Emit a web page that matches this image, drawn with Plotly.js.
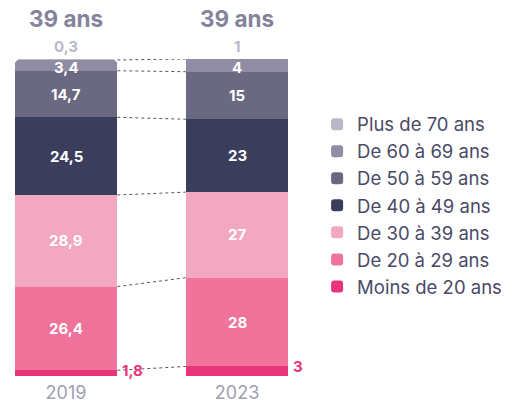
<!DOCTYPE html>
<html><head><meta charset="utf-8">
<script src="https://cdn.plot.ly/plotly-3.0.1.min.js"></script>
<style>html,body{margin:0;padding:0;background:#fff}#c{width:519px;height:404px}</style>
</head><body><div id="c"></div>
<script>
const years = ['2019', '2023'];
const headers = ['39 ans', '39 ans'];
const groups = ['Moins de 20 ans', 'De 20 à 29 ans', 'De 30 à 39 ans', 'De 40 à 49 ans', 'De 50 à 59 ans', 'De 60 à 69 ans', 'Plus de 70 ans'];
const v2019 = [1.8, 26.4, 28.9, 24.5, 14.7, 3.4, 0.3];
const v2023 = [3, 28, 27, 23, 15, 4, 1];
const colors = ['#e8357a', '#ef739b', '#f2a8c1', '#3b3d5c', '#6b6882', '#8f8ca3', '#b9b8c8'];

const fmt = v => String(v).replace('.', ',');
const xs = [0, 1];
const halfW = 0.3;
const traces = groups.map((g, i) => ({
  type: 'bar', name: g, x: xs, y: [v2019[i], v2023[i]],
  marker: {color: colors[i], line: {width: 0}},
  width: 2 * halfW, hoverinfo: 'skip', cliponaxis: false
}));

const cum = arr => { let s = 0; return arr.map(v => (s += v)); };
const c19 = cum(v2019), c23 = cum(v2023);
const shapes = [];
for (let i = 0; i < groups.length - 1; i++) {
  shapes.push({type: 'line', xref: 'x', yref: 'y', x0: 0 + halfW, x1: 1 - halfW, y0: c19[i], y1: c23[i],
    line: {color: '#555566', width: 1, dash: 'dot'}});
}
const topIdx = groups.length - 1;
const annotations = [];
xs.forEach((x, j) => {
  const vals = j === 0 ? v2019 : v2023;
  const c = j === 0 ? c19 : c23;
  annotations.push({x: x, xref: 'x', y: 1.129, yref: 'paper', yanchor: 'middle', showarrow: false,
    text: headers[j], font: {family: 'Inter', size: 22.5, color: '#85839a', weight: 700}});
  annotations.push({x: x, xref: 'x', y: 100, yref: 'y', yanchor: 'bottom', yshift: 1, showarrow: false,
    text: fmt(vals[topIdx]), font: {family: 'Inter', size: 15, color: '#b9b8c8', weight: 700}});
  annotations.push({x: x + halfW, xref: 'x', y: vals[0], yref: 'y', xanchor: 'left', yanchor: 'middle', xshift: 3, showarrow: false,
    text: fmt(vals[0]), font: {family: 'Inter', size: 15, color: '#e8357a', weight: 700}});
  for (let i = 1; i < topIdx; i++) {
    annotations.push({x: x, xref: 'x', y: c[i] - vals[i] / 2, yref: 'y', yanchor: 'middle', showarrow: false,
      yshift: i === topIdx - 1 ? -2 : 0,
      text: fmt(vals[i]), font: {family: 'Inter', size: 15, color: '#ffffff', weight: 700}});
  }
});

const layout = {
  width: 519, height: 404, margin: {l: 0, r: 219, t: 59, b: 28},
  paper_bgcolor: '#fff', plot_bgcolor: '#fff',
  barmode: 'stack', barcornerradius: 5,
  xaxis: {range: [-0.386, 1.368], tickvals: xs, ticktext: years, showgrid: false, zeroline: false, showline: false,
    ticks: '', ticklabelstandoff: 4, tickfont: {family: 'Inter', size: 18, color: '#a09eb3'}},
  yaxis: {range: [0, 100], visible: false, fixedrange: true},
  showlegend: true,
  legend: {xref: 'container', yref: 'container', x: 0.611, xanchor: 'left', y: 0.491, yanchor: 'middle', traceorder: 'reversed',
    bgcolor: 'rgba(0,0,0,0)', font: {family: 'Inter', size: 18.5, color: '#4a4a66'}, itemwidth: 30, tracegroupgap: 0},
  shapes: shapes, annotations: annotations
};
Plotly.newPlot('c', traces, layout, {staticPlot: true});
</script></body></html>
